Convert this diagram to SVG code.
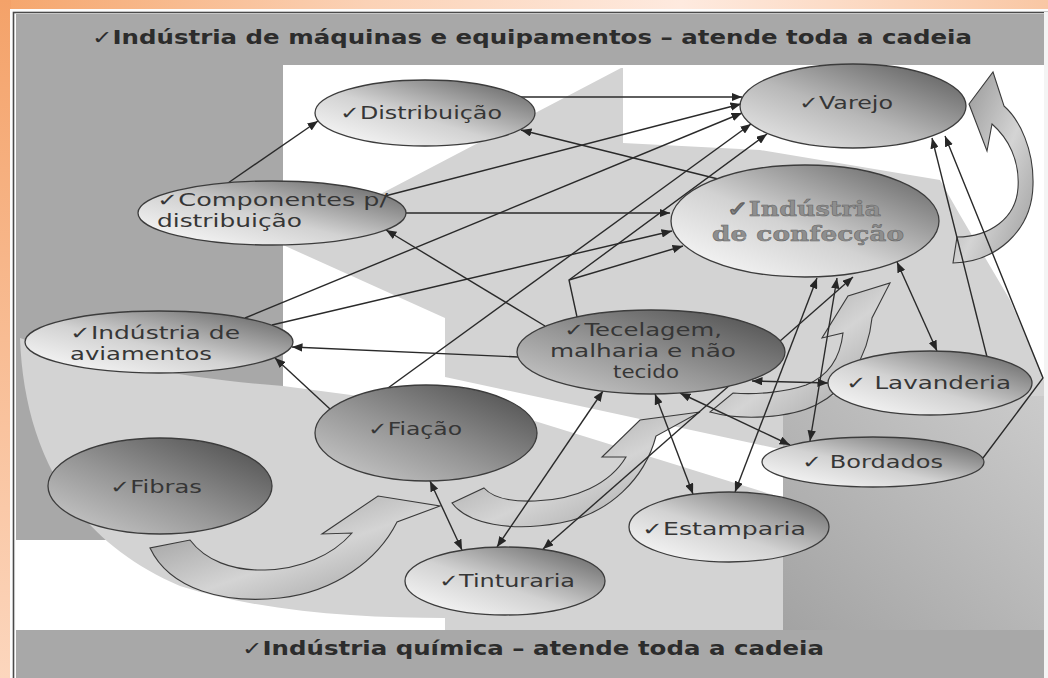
<svg xmlns="http://www.w3.org/2000/svg" width="1048" height="678" viewBox="0 0 1048 678">
<defs>
  <linearGradient id="bgH" x1="0" y1="0" x2="1" y2="0">
    <stop offset="0" stop-color="#f5a56b"/>
    <stop offset="0.35" stop-color="#fbd2b6"/>
    <stop offset="0.65" stop-color="#feeadf"/>
    <stop offset="1" stop-color="#f9c7a4"/>
  </linearGradient>
  <linearGradient id="bgV" x1="0" y1="0" x2="0" y2="1">
    <stop offset="0" stop-color="#f4a269"/>
    <stop offset="1" stop-color="#fcd6bd"/>
  </linearGradient>
  <linearGradient id="gL" x1="0" y1="1" x2="1" y2="0">
    <stop offset="0" stop-color="#ffffff"/>
    <stop offset="0.45" stop-color="#d2d2d2"/>
    <stop offset="1" stop-color="#5a5a5a"/>
  </linearGradient>
  <linearGradient id="gM" x1="0" y1="1" x2="1" y2="0">
    <stop offset="0" stop-color="#eeeeee"/>
    <stop offset="0.45" stop-color="#b8b8b8"/>
    <stop offset="1" stop-color="#555555"/>
  </linearGradient>
  <linearGradient id="gD" x1="0" y1="1" x2="1" y2="0">
    <stop offset="0" stop-color="#cfcfcf"/>
    <stop offset="0.45" stop-color="#969696"/>
    <stop offset="1" stop-color="#484848"/>
  </linearGradient>
  <linearGradient id="gArrow" x1="0" y1="0" x2="1" y2="1">
    <stop offset="0" stop-color="#8c8c8c"/>
    <stop offset="0.55" stop-color="#d4d4d4"/>
    <stop offset="1" stop-color="#9a9a9a"/>
  </linearGradient>
  <linearGradient id="gRight" x1="0" y1="1" x2="1" y2="0">
    <stop offset="0" stop-color="#a3a3a3"/>
    <stop offset="1" stop-color="#cbcbcb"/>
  </linearGradient>
  <marker id="ah" viewBox="0 0 10 8" refX="10" refY="4" markerWidth="7.5" markerHeight="6" orient="auto-start-reverse">
    <path d="M0,0 L10,4 L0,8 Z" fill="#262626"/>
  </marker>
</defs>
<style>
  .ln{fill:none;stroke:#2a2a2a;stroke-width:1.4}
  .a{marker-end:url(#ah)}
  .d{marker-start:url(#ah);marker-end:url(#ah)}
  .nd{stroke:#3c3c3c;stroke-width:1.3}
  .lb{font-family:"DejaVu Sans",Verdana,sans-serif;font-size:18px;fill:#363636}
  .bd{font-family:"DejaVu Serif",serif;font-weight:bold;font-size:21px;fill:#8e8e8e;stroke:#666666;stroke-width:0.5}
  .tt{font-family:"DejaVu Sans",Verdana,sans-serif;font-weight:bold;font-size:19px;fill:#2c2c2c}
  .fa{fill:url(#gArrow);stroke:#3a3a3a;stroke-width:1.1}
  .lg{fill:#d3d3d3}
  .mg{fill:#a8a8a8}
</style>

<!-- frame -->
<rect x="0" y="0" width="1048" height="678" fill="url(#bgH)"/>
<rect x="0" y="0" width="11" height="678" fill="url(#bgV)"/>
<rect x="10" y="9" width="1038" height="669" fill="#fdfdfd"/>
<rect x="13.5" y="12.5" width="1040" height="670" fill="none" stroke="#4a4a4a" stroke-width="1.6"/>

<!-- background -->
<g id="background">
  <rect x="16" y="65" width="1028" height="565" fill="#ffffff"/>
  <rect class="mg" x="16" y="65" width="267" height="475"/>
  <path class="lg" d="M20,338 C24,450 72,540 180,586 C262,612 360,618 445,618 L445,630 L783,630 L783,498 L525,418 L283,386 C200,380 90,362 20,338 Z"/>
  <path class="lg" d="M283,245 L621,68 L623,68 L623,143 L760,150 L940,180 L960,215 L1010,300 L1040,370 L1044,380 L1044,396 L783,396 L784,450 L445,377 L445,318 Z"/>
  <rect x="783" y="396" width="261" height="234" fill="url(#gRight)"/>
</g>

<!-- bands -->
<g id="top-band">
  <rect class="mg" x="16" y="14" width="1028" height="51"/>
  <text class="tt" x="92" y="44" textLength="880" lengthAdjust="spacingAndGlyphs">✓Indústria de máquinas e equipamentos – atende toda a cadeia</text>
</g>
<g id="bottom-band">
  <rect class="mg" x="16" y="630" width="1028" height="48"/>
  <text class="tt" x="242" y="655" textLength="582" lengthAdjust="spacingAndGlyphs">✓Indústria química – atende toda a cadeia</text>
</g>
<rect x="1044" y="12" width="4" height="666" fill="#f4f4f4"/>

<!-- curved flow arrows -->
<g id="flow-arrows">
  <path class="fa" d="M150,548 C170,590 225,604 280,598 C335,592 378,560 397,522 L440,506 L378,496 L322,534 L352,533 C332,556 300,569 265,570 C232,571 205,560 190,540 Z"/>
  <path class="fa" d="M452,503 C468,524 510,532 560,523 C610,514 645,478 656,436 L700,412 L640,420 L602,457 L626,457 C610,484 575,500 535,501 C508,502 492,497 484,488 Z"/>
  <path class="fa" d="M710,412 C742,421 790,418 816,405 C846,390 868,358 872,318 L890,283 L848,296 L822,338 L843,333 C840,360 826,377 806,385 C786,392 757,395 733,393 Z"/>
  <path class="fa" d="M953,263 C995,262 1032,232 1033,185 C1034,150 1020,120 1004,106 L993,72 L969,104 L987,151 L992,124 C1008,138 1020,160 1018,188 C1016,218 990,237 957,237 Z"/>
</g>

<!-- connectors -->
<g id="connectors">
  <path class="ln a" d="M228,183 L318,121"/>
  <path class="ln a" d="M515,97 L742,97"/>
  <path class="ln a" d="M718,179 L521,130"/>
  <path class="ln a" d="M385,196 L741,104"/>
  <path class="ln a" d="M245,318 L742,113"/>
  <path class="ln a" d="M388,388 L751,124"/>
  <path class="ln a" d="M577,317 L569,280 L767,134"/>
  <path class="ln a" d="M569,280 L683,246"/>
  <path class="ln a" d="M406,213 L670,213"/>
  <path class="ln a" d="M272,325 L672,231"/>
  <path class="ln a" d="M545,326 L386,230"/>
  <path class="ln a" d="M518,357 L292,347"/>
  <path class="ln a" d="M330,409 L275,358"/>
  <path class="ln d" d="M817,278 L735,492"/>
  <path class="ln d" d="M837,278 L810,441"/>
  <path class="ln d" d="M853,277 L543,549"/>
  <path class="ln d" d="M897,262 L937,351"/>
  <path class="ln d" d="M752,381 L828,383"/>
  <path class="ln a" d="M987,357 L932,138"/>
  <path class="ln a" d="M983,458 L1043,378 L945,136"/>
  <path class="ln d" d="M655,394 L693,494"/>
  <path class="ln d" d="M680,393 L790,445"/>
  <path class="ln d" d="M603,391 L497,547"/>
  <path class="ln d" d="M430,481 L462,550"/>
</g>

<!-- nodes -->
<g id="n-distribuicao">
  <ellipse class="nd" cx="425" cy="113" rx="110" ry="33" fill="url(#gL)"/>
  <text class="lb" x="340" y="119" textLength="162" lengthAdjust="spacingAndGlyphs">✓Distribuição</text>
</g>
<g id="n-varejo">
  <ellipse class="nd" cx="853" cy="106" rx="113" ry="42" fill="url(#gM)"/>
  <text class="lb" x="799" y="109" textLength="94" lengthAdjust="spacingAndGlyphs">✓Varejo</text>
</g>
<g id="n-componentes">
  <ellipse class="nd" cx="272" cy="213" rx="134" ry="32" fill="url(#gL)"/>
  <text class="lb" x="157" y="206" textLength="231" lengthAdjust="spacingAndGlyphs">✓Componentes p/</text>
  <text class="lb" x="157" y="227" textLength="145" lengthAdjust="spacingAndGlyphs">distribuição</text>
</g>
<g id="n-confeccao">
  <ellipse class="nd" cx="805" cy="221" rx="134" ry="56" fill="url(#gL)"/>
  <text class="bd" x="727" y="216" textLength="154" lengthAdjust="spacingAndGlyphs">✓Indústria</text>
  <text class="bd" x="712" y="241" textLength="192" lengthAdjust="spacingAndGlyphs">de confecção</text>
</g>
<g id="n-aviamentos">
  <ellipse class="nd" cx="159" cy="342" rx="134" ry="31" fill="url(#gL)"/>
  <text class="lb" x="70" y="339" textLength="170" lengthAdjust="spacingAndGlyphs">✓Indústria de</text>
  <text class="lb" x="70" y="360" textLength="142" lengthAdjust="spacingAndGlyphs">aviamentos</text>
</g>
<g id="n-tecelagem">
  <ellipse class="nd" cx="651" cy="352" rx="134" ry="42" fill="url(#gD)"/>
  <text class="lb" x="643" y="336" text-anchor="middle" textLength="158" lengthAdjust="spacingAndGlyphs">✓Tecelagem,</text>
  <text class="lb" x="643" y="357" text-anchor="middle" textLength="186" lengthAdjust="spacingAndGlyphs">malharia e não</text>
  <text class="lb" x="646" y="378" text-anchor="middle" textLength="66" lengthAdjust="spacingAndGlyphs">tecido</text>
</g>
<g id="n-fiacao">
  <ellipse class="nd" cx="426" cy="433" rx="111" ry="48" fill="url(#gD)"/>
  <text class="lb" x="368" y="435" textLength="94" lengthAdjust="spacingAndGlyphs">✓Fiação</text>
</g>
<g id="n-fibras">
  <ellipse class="nd" cx="160" cy="486" rx="112" ry="48" fill="url(#gD)"/>
  <text class="lb" x="110" y="493" textLength="92" lengthAdjust="spacingAndGlyphs">✓Fibras</text>
</g>
<g id="n-tinturaria">
  <ellipse class="nd" cx="505" cy="581" rx="100" ry="34" fill="url(#gL)"/>
  <text class="lb" x="439" y="587" textLength="136" lengthAdjust="spacingAndGlyphs">✓Tinturaria</text>
</g>
<g id="n-estamparia">
  <ellipse class="nd" cx="729" cy="527" rx="100" ry="35" fill="url(#gL)"/>
  <text class="lb" x="642" y="535" textLength="164" lengthAdjust="spacingAndGlyphs">✓Estamparia</text>
</g>
<g id="n-lavanderia">
  <ellipse class="nd" cx="930" cy="383" rx="102" ry="32" fill="url(#gL)"/>
  <text class="lb" x="846" y="389" textLength="165" lengthAdjust="spacingAndGlyphs">✓ Lavanderia</text>
</g>
<g id="n-bordados">
  <ellipse class="nd" cx="873" cy="462" rx="111" ry="25" fill="url(#gL)"/>
  <text class="lb" x="802" y="468" textLength="141" lengthAdjust="spacingAndGlyphs">✓ Bordados</text>
</g>
</svg>
